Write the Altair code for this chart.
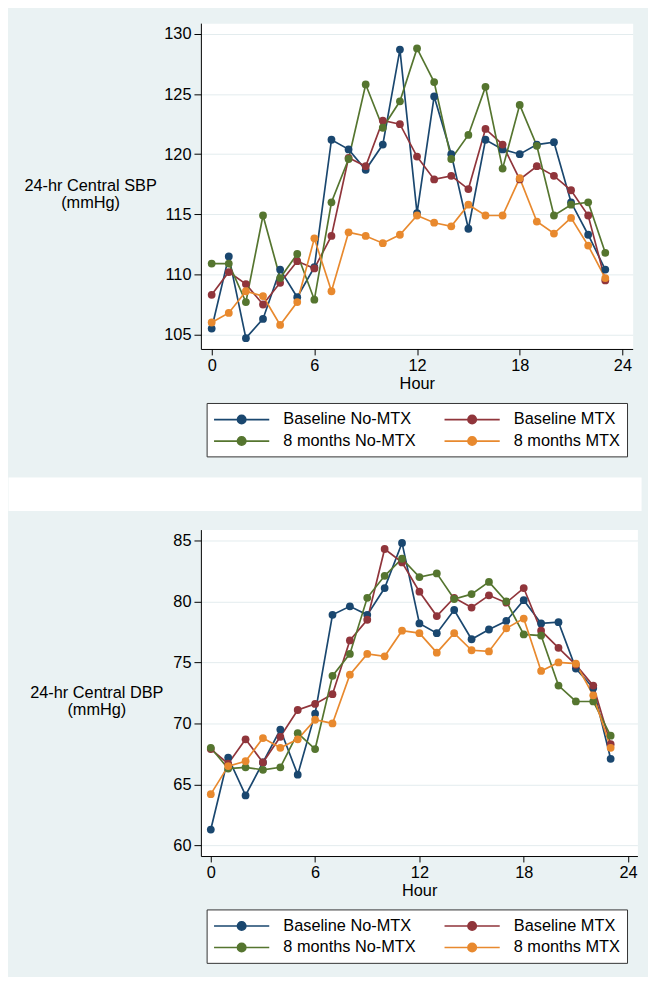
import altair as alt
import pandas as pd

hours = list(range(24))
series_names = ["Baseline No-MTX", "Baseline MTX", "8 months No-MTX", "8 months MTX"]
series_colors = ["#1a476f", "#90353b", "#55752f", "#e8892e"]

sbp_baseline_nomtx = [105.5, 111.5, 104.7, 106.3, 110.4, 108.1, 110.6, 121.2, 120.4, 118.7, 120.8, 128.7,
                      115.1, 124.8, 120.0, 113.8, 121.2, 120.4, 120.0, 120.8, 121.0, 116.0, 113.3, 110.4]
sbp_baseline_mtx = [108.3, 110.2, 109.2, 107.5, 109.3, 111.1, 110.5, 113.2, 119.7, 119.0, 122.8, 122.5,
                    119.8, 117.9, 118.2, 117.1, 122.1, 120.8, 117.9, 119.0, 118.2, 117.0, 114.9, 109.5]
sbp_8m_nomtx = [110.9, 110.9, 107.7, 114.9, 109.7, 111.7, 107.9, 116.0, 119.6, 125.8, 122.2, 124.4,
                128.8, 126.0, 119.6, 121.6, 125.6, 118.8, 124.1, 120.7, 114.9, 115.8, 116.0, 111.8]
sbp_8m_mtx = [106.0, 106.8, 108.6, 108.2, 105.8, 107.7, 113.0, 108.6, 113.5, 113.2, 112.6, 113.3,
              114.9, 114.3, 114.0, 115.8, 114.9, 114.9, 118.0, 114.4, 113.4, 114.7, 112.4, 109.7]

dbp_baseline_nomtx = [61.3, 67.2, 64.1, 66.8, 69.5, 65.8, 70.8, 78.9, 79.6, 78.9, 81.1, 84.8,
                      78.2, 77.4, 79.3, 76.9, 77.7, 78.4, 80.1, 78.2, 78.3, 74.5, 72.9, 67.1]
dbp_baseline_mtx = [67.9, 66.7, 68.7, 66.8, 68.9, 71.1, 71.6, 72.4, 76.8, 78.5, 84.3, 83.2,
                    80.8, 78.8, 80.3, 79.5, 80.5, 79.9, 81.1, 77.6, 76.2, 74.8, 73.1, 68.3]
dbp_8m_nomtx = [68.0, 66.3, 66.4, 66.2, 66.4, 69.2, 67.9, 73.9, 75.7, 80.3, 82.1, 83.5,
                82.0, 82.3, 80.2, 80.6, 81.6, 80.0, 77.3, 77.2, 73.1, 71.8, 71.8, 69.0]
dbp_8m_mtx = [64.2, 66.5, 66.9, 68.8, 68.0, 68.7, 70.3, 70.0, 74.0, 75.7, 75.5, 77.6,
              77.4, 75.8, 77.4, 76.0, 75.9, 77.8, 78.6, 74.3, 75.0, 74.9, 72.3, 68.0]

x_ticks = [0, 6, 12, 18, 24]
sbp_ticks = [105, 110, 115, 120, 125, 130]
dbp_ticks = [60, 65, 70, 75, 80, 85]

FONT = "Liberation Sans"
FS = 16.5
BG = "#eaf2f3"
LEG_PATH = "M-1,0H5.2M2.57,0A0.47,0.47 0 1,1 1.63,0A0.47,0.47 0 1,1 2.57,0Z"


def long_df(series_lists):
    rows = []
    for name, vals in zip(series_names, series_lists):
        for h, v in zip(hours, vals):
            rows.append({"hour": h, "value": v, "series": name})
    return pd.DataFrame(rows)


def make_legend():
    return alt.Legend(
        title=None, orient="none", legendX=5.8, legendY=384, columns=2,
        direction="horizontal",
        columnPadding=25, rowPadding=3, padding=6.5,
        strokeColor="#333333", fillColor="white",
        symbolType=LEG_PATH, symbolSize=324, symbolStrokeWidth=1.7,
        labelOffset=51, labelFont=FONT, labelFontSize=FS, labelColor="black",
        labelLimit=0,
    )


def panel(df, ytitle, ydomain, yticks, xdomain, width, height, title_x, region, gap):
    scale_c = alt.Scale(domain=series_names, range=series_colors)
    x = alt.X("hour:Q", scale=alt.Scale(domain=xdomain, nice=False, zero=False),
              axis=alt.Axis(values=x_ticks, title="Hour", grid=False, tickSize=6,
                            labelPadding=3, titlePadding=1, labelFlush=False,
                            labelOverlap=False))
    y = alt.Y("value:Q", scale=alt.Scale(domain=ydomain, nice=False, zero=False),
              axis=alt.Axis(values=yticks, title=ytitle, grid=True, tickSize=7,
                            labelPadding=3, titleAngle=0, titleAlign="center",
                            titleBaseline="middle", titleX=title_x, titleY=height / 2,
                            titleLineHeight=17, labelOverlap=False))
    anchor = alt.Chart(pd.DataFrame({"a": [0]})).mark_rect(opacity=0).encode(
        x=alt.value(region[0]), x2=alt.value(region[1]),
        y=alt.value(region[2]), y2=alt.value(region[3]))
    layers = [anchor]
    if gap is not None:
        layers.append(alt.Chart(pd.DataFrame({"a": [0]})).mark_rect(color="white").encode(
            x=alt.value(region[0]), x2=alt.value(region[1]),
            y=alt.value(gap[0]), y2=alt.value(gap[1])))
    base = alt.Chart(df)
    lines = base.mark_line(strokeWidth=1.7).encode(
        x=x, y=y, stroke=alt.Stroke("series:N", scale=scale_c, legend=make_legend()))
    pts = base.mark_circle(size=62, opacity=1).encode(
        x=x, y=y, fill=alt.Fill("series:N", scale=scale_c, legend=make_legend()))
    layers += [lines, pts]
    return alt.layer(*layers).properties(width=width, height=height)


top = panel(long_df([sbp_baseline_nomtx, sbp_baseline_mtx, sbp_8m_nomtx, sbp_8m_mtx]),
            ["24-hr Central SBP", "(mmHg)"], [103.8, 130.9], sbp_ticks, [-0.63, 24.6],
            436.5, 329.4, -112, (-194.5, 445.5, -8.7, 493.3), (459.3, 493.3))
bottom = panel(long_df([dbp_baseline_nomtx, dbp_baseline_mtx, dbp_8m_nomtx, dbp_8m_mtx]),
               ["24-hr Central DBP", "(mmHg)"], [59.13, 85.89], dbp_ticks, [-0.57, 24.54],
               441.3, 330, -105.7, (-188.7, 451.3, -16.7, 446.3), None)

chart = alt.vconcat(top, bottom, spacing=0).resolve_scale(
    stroke="independent", fill="independent"
).properties(
    padding=0, background=BG
).configure_view(
    fill="white", stroke="transparent"
).configure_axis(
    labelFont=FONT, labelFontSize=FS, labelColor="black",
    titleFont=FONT, titleFontSize=FS, titleFontWeight="normal", titleColor="black",
    domainColor="black", tickColor="black", domainWidth=1, tickWidth=1,
    gridColor="#e3ecee", gridWidth=1
)

chart.save("out.html", embed_options={"renderer": "svg", "actions": False})
